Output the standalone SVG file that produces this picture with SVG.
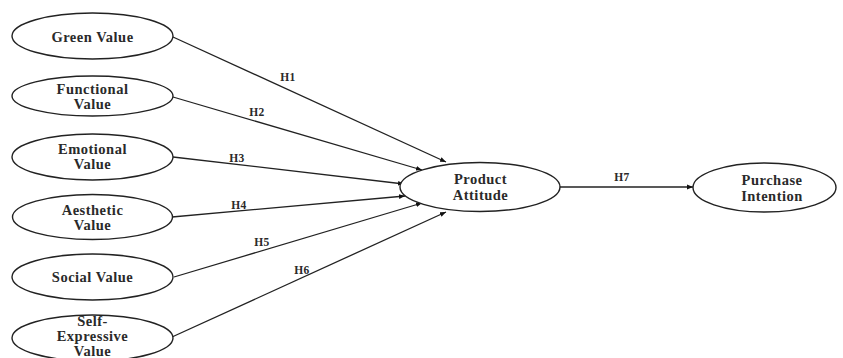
<svg xmlns="http://www.w3.org/2000/svg" width="843" height="358" viewBox="0 0 843 358">
<style>
.n ellipse{fill:#fff;stroke:#222;stroke-width:1.4}
.n text{font-family:"Liberation Serif","Times New Roman",serif;font-weight:bold;font-size:14.5px;letter-spacing:0.5px;fill:#2a2a2a;text-anchor:middle}
.c line{stroke:#222;stroke-width:1.3;marker-end:url(#ah)}
.c text{font-family:"Liberation Serif","Times New Roman",serif;font-weight:bold;font-size:11.5px;letter-spacing:0.4px;fill:#2a2a2a;text-anchor:middle}
</style>
<defs>
<marker id="ah" viewBox="0 0 10 10" refX="10" refY="5" markerWidth="6" markerHeight="6" markerUnits="userSpaceOnUse" orient="auto">
<path d="M0,1 L10,5 L0,9 z" fill="#111"/>
</marker>
</defs>
<rect width="843" height="358" fill="#fff"/>
<g class="c" id="connectors">
<line x1="173" y1="37" x2="446" y2="162"/>
<line x1="173" y1="97" x2="422" y2="170"/>
<line x1="173" y1="157" x2="404" y2="184"/>
<line x1="172" y1="217" x2="405" y2="196"/>
<line x1="174" y1="277" x2="422" y2="203"/>
<line x1="172" y1="337" x2="446" y2="212"/>
<line x1="560" y1="187" x2="693" y2="187"/>
<text x="288" y="81">H1</text>
<text x="257" y="116">H2</text>
<text x="237" y="162">H3</text>
<text x="239" y="209">H4</text>
<text x="262" y="246">H5</text>
<text x="302" y="274">H6</text>
<text x="622" y="181">H7</text>
</g>
<g class="n" id="green"><ellipse cx="92.5" cy="36" rx="80.5" ry="23"/><text x="92.5" y="42">Green Value</text></g>
<g class="n" id="functional"><ellipse cx="92.5" cy="96" rx="80.5" ry="20"/><text x="92.5" y="94">Functional</text><text x="92.5" y="109">Value</text></g>
<g class="n" id="emotional"><ellipse cx="92.5" cy="157" rx="80.5" ry="23"/><text x="92.5" y="154">Emotional</text><text x="92.5" y="169">Value</text></g>
<g class="n" id="aesthetic"><ellipse cx="92.5" cy="217" rx="80" ry="22.5"/><text x="92.5" y="215">Aesthetic</text><text x="92.5" y="230">Value</text></g>
<g class="n" id="social"><ellipse cx="92.5" cy="277" rx="80.5" ry="23"/><text x="92.5" y="282">Social Value</text></g>
<g class="n" id="selfexpressive"><ellipse cx="92.5" cy="338" rx="80.5" ry="23"/><text x="92.5" y="326">Self-</text><text x="92.5" y="341">Expressive</text><text x="92.5" y="356">Value</text></g>
<g class="n" id="attitude"><ellipse cx="480" cy="187" rx="80" ry="24.5"/><text x="480.5" y="184">Product</text><text x="480.5" y="200">Attitude</text></g>
<g class="n" id="intention"><ellipse cx="764.5" cy="187.5" rx="71.5" ry="24.5"/><text x="772" y="185">Purchase</text><text x="772" y="201">Intention</text></g>
</svg>
